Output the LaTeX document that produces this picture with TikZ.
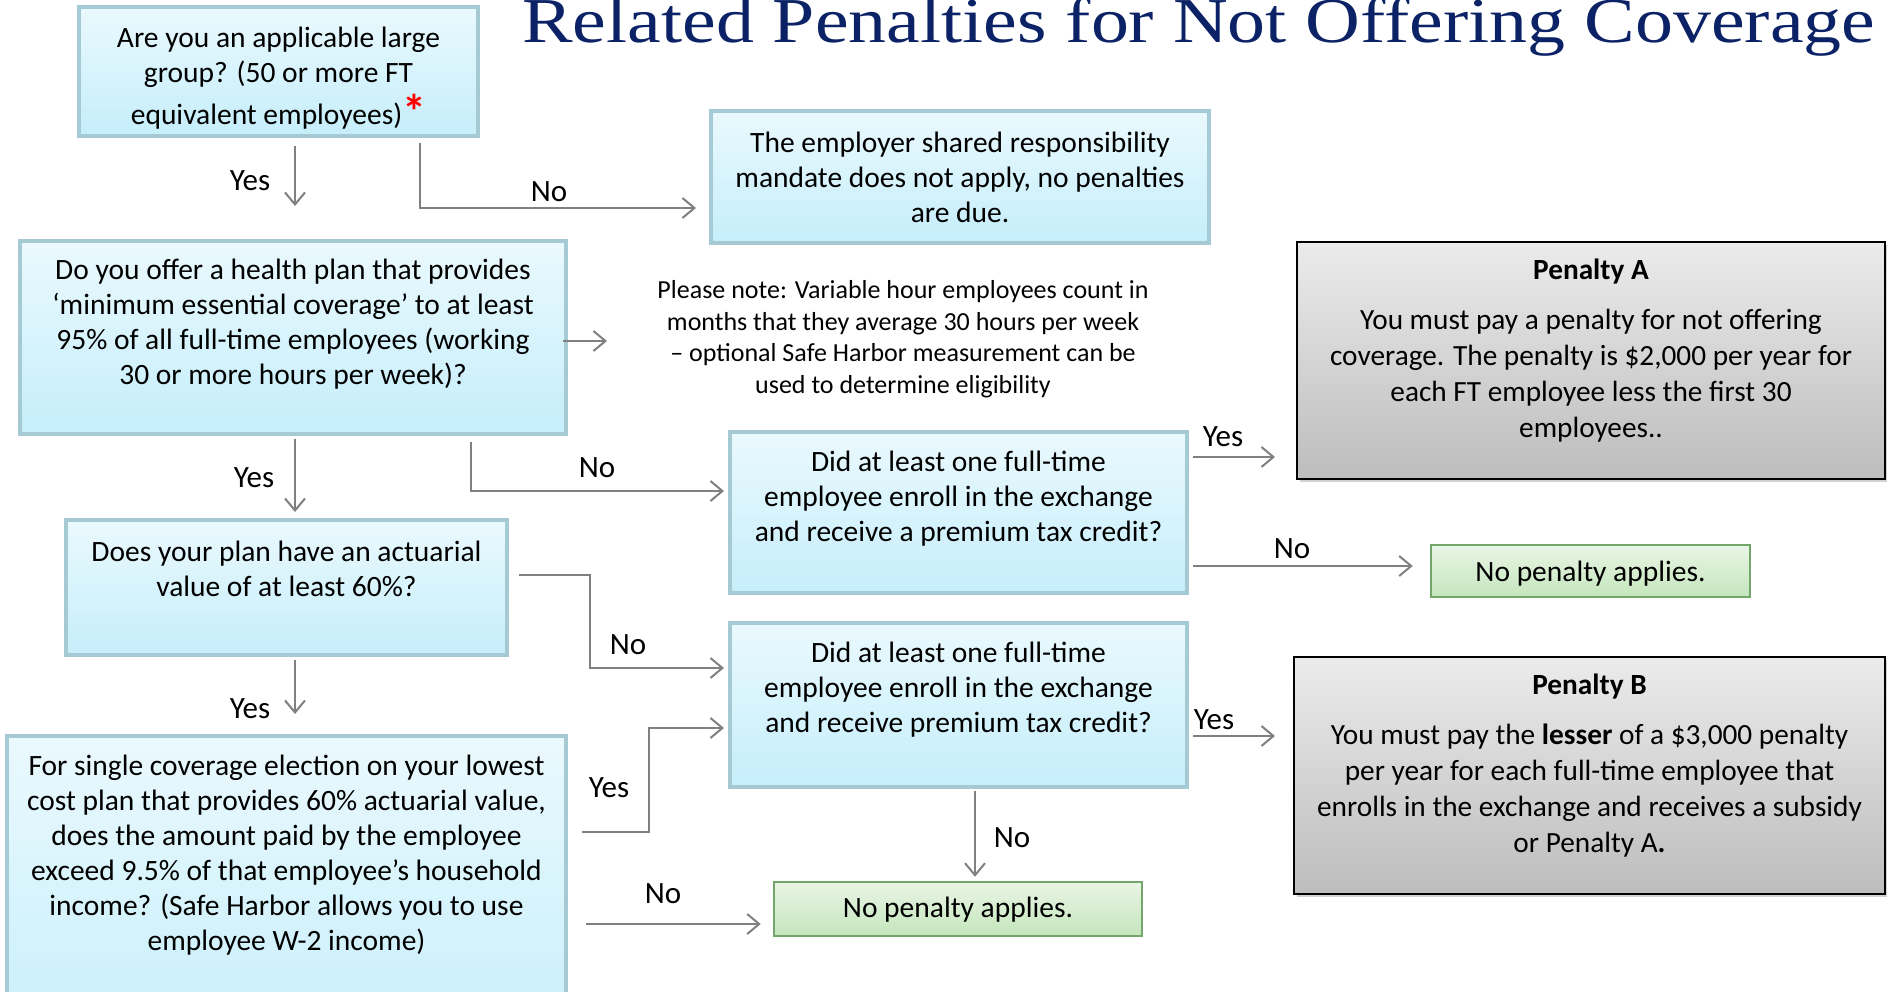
\documentclass[tikz,border=0pt]{standalone}
\usepackage{fontspec}
\setmainfont{Carlito}
\newfontfamily\titlefont{Liberation Serif}
\usetikzlibrary{calc,arrows.meta,shadows}
\definecolor{bbord}{HTML}{A6CAD4}
\definecolor{btop}{HTML}{EAF9FD}
\definecolor{bbot}{HTML}{C5EEFB}
\definecolor{gbord}{HTML}{74A66B}
\definecolor{gtop}{HTML}{E9F5E5}
\definecolor{gbot}{HTML}{C4E6BC}
\definecolor{ptop}{HTML}{EBEBEB}
\definecolor{pbot}{HTML}{BDBDBD}
\definecolor{arrgray}{HTML}{808080}
\definecolor{navy}{HTML}{0B2266}
\begin{document}
\begin{tikzpicture}[x=1pt,y=-1pt,
  bluebox/.style={draw=bbord, line width=4pt, top color=btop, bottom color=bbot, inner sep=0pt},
  greenbox/.style={draw=gbord, line width=2.5pt, top color=gtop, bottom color=gbot, inner sep=0pt},
  penbox/.style={draw=black, line width=2pt, top color=ptop, bottom color=pbot, inner sep=0pt,
     drop shadow={shadow xshift=3pt, shadow yshift=-3pt, fill=black!35, opacity=0.5}},
  txt/.style={align=center, inner sep=0pt, font=\fontsize{29.5}{35}\selectfont},
  pentxt/.style={align=center, inner sep=0pt, font=\fontsize{29.3}{36}\selectfont},
  notetxt/.style={align=center, inner sep=0pt, font=\fontsize{26}{31.5}\selectfont},
  lbl/.style={inner sep=0pt, font=\fontsize{31}{35}\selectfont},
  arr/.style={draw=arrgray, line width=2.5pt, -{Straight Barb[length=12pt,width=20pt,line width=2pt]}}
]
\clip (0,0) rectangle (1887,991);
\fill[white] (0,0) rectangle (1887,991);

% title
\node[anchor=base west, inner sep=0pt, text=navy, font=\titlefont\fontsize{64}{66}\selectfont] (title) at (522,42)
  {\resizebox{1353pt}{\height}{Related Penalties for Not Offering Coverage}};

% boxes
\node[bluebox, minimum width=399pt, minimum height=129pt] (q1) at (278.5,71.5) {};
\node[bluebox, minimum width=498pt, minimum height=132pt] (r1) at (960,177) {};
\node[bluebox, minimum width=546pt, minimum height=193pt] (q2) at (293,337.5) {};
\node[bluebox, minimum width=441pt, minimum height=135pt] (q3) at (286.5,587.5) {};
\node[bluebox, minimum width=559pt, minimum height=324pt] (q4) at (286.5,898) {};
\node[bluebox, minimum width=457pt, minimum height=161pt] (q5) at (958.5,512.5) {};
\node[bluebox, minimum width=457pt, minimum height=164pt] (q6) at (958.5,705) {};
\node[greenbox, minimum width=319pt, minimum height=52pt] (g1) at (1590.5,571) {};
\node[greenbox, minimum width=368pt, minimum height=54pt] (g2) at (958,909) {};
\node[penbox, minimum width=588pt, minimum height=237pt] (pa) at (1591,360.5) {};
\node[penbox, minimum width=591pt, minimum height=237pt] (pb) at (1589.5,775.5) {};

% texts
\node[txt] (q1t) at (278.5,78) {Are you an applicable large\\ group? (50 or more FT\\[5pt] equivalent employees)\textcolor{red}{\raisebox{-4pt}{\fontsize{48}{48}\selectfont\bfseries *}}};
\node[txt] (r1t) at (960,177) {The employer shared responsibility\\ mandate does not apply, no penalties\\ are due.};
\node[txt] (q2t) at (293,324) {Do you offer a health plan that provides\\ ‘minimum essential coverage’ to at least\\ 95\% of all full-time employees (working\\ 30 or more hours per week)?};
\node[txt] (q3t) at (286.5,569) {Does your plan have an actuarial\\ value of at least 60\%?};
\node[txt] (q4t) at (286.5,855) {For single coverage election on your lowest\\ cost plan that provides 60\% actuarial value,\\ does the amount paid by the employee\\ exceed 9.5\% of that employee’s household\\ income? (Safe Harbor allows you to use\\ employee W-2 income)};
\node[txt] (q5t) at (958.5,499) {Did at least one full-time\\ employee enroll in the exchange\\ and receive a premium tax credit?};
\node[txt] (q6t) at (958.5,690) {Did at least one full-time\\ employee enroll in the exchange\\ and receive premium tax credit?};
\node[txt] (g1t) at (1590.5,574) {No penalty applies.};
\node[txt] (g2t) at (958,910) {No penalty applies.};
\node[pentxt] (pat) at (1591,351) {\textbf{Penalty A}\\[14pt] You must pay a penalty for not offering\\ coverage. The penalty is \$2,000 per year for\\ each FT employee less the first 30\\ employees..};
\node[pentxt] (pbt) at (1589.5,766) {\textbf{Penalty B}\\[14pt] You must pay the \textbf{lesser} of a \$3,000 penalty\\ per year for each full-time employee that\\ enrolls in the exchange and receives a subsidy\\ or Penalty A\textbf{.}};
\node[notetxt] (note) at (903,339) {Please note: Variable hour employees count in\\ months that they average 30 hours per week\\ – optional Safe Harbor measurement can be\\ used to determine eligibility};

% connectors
\draw[arr] ($(q1.south)+(16.5,8)$) -- ($(q2.north)+(2,-33)$);
\node[lbl] (l1) at (250,181) {Yes};
\draw[arr] ($(q1.south east)+(-60,5)$) |- ($(r1.west)+(-13,31)$);
\node[lbl] (l2) at (549,192) {No};
\draw[arr] ($(q2.east)+(-5,3.5)$) -- ($(q2.east)+(39,3.5)$);
\draw[arr] ($(q2.south)+(2,3)$) -- ($(q3.north)+(8.5,-6)$);
\node[lbl] (l3) at (254,478) {Yes};
\draw[arr] ($(q2.south east)+(-97,6)$) |- ($(q5.west)+(-4,-21.5)$);
\node[lbl] (l4) at (597,468) {No};
\draw[arr] ($(q5.east)+(4,-55.5)$) -- ($(pa.west)+(-21,96.5)$);
\node[lbl] (l5) at (1223,437) {Yes};
\draw[arr] ($(q5.east)+(4,53.5)$) -- ($(g1.west)+(-17,-5)$);
\node[lbl] (l6) at (1292,549) {No};
\draw[arr] ($(q3.east)+(10,-12.5)$) -- ($(q3.east)+(81,-12.5)$) |- ($(q6.west)+(-4,-37)$);
\node[lbl] (l7) at (628,645) {No};
\draw[arr] ($(q3.south)+(8.5,3)$) -- ($(q4.north)+(8.5,-20)$);
\node[lbl] (l8) at (250,709) {Yes};
\draw[arr] ($(q4.east)+(14,-66)$) -- ($(q4.east)+(81,-66)$) |- ($(q6.west)+(-4,23)$);
\node[lbl] (l9) at (609,788) {Yes};
\draw[arr] ($(q4.east)+(18,26)$) -- ($(g2.west)+(-12,15)$);
\node[lbl] (l10) at (663,894) {No};
\draw[arr] ($(q6.east)+(4,31)$) -- ($(pb.west)+(-18,-39.5)$);
\node[lbl] (l11) at (1214,720) {Yes};
\draw[arr] ($(q6.south)+(16.5,2)$) -- ($(g2.north)+(17,-4)$);
\node[lbl] (l12) at (1012,838) {No};
\end{tikzpicture}
\end{document}
